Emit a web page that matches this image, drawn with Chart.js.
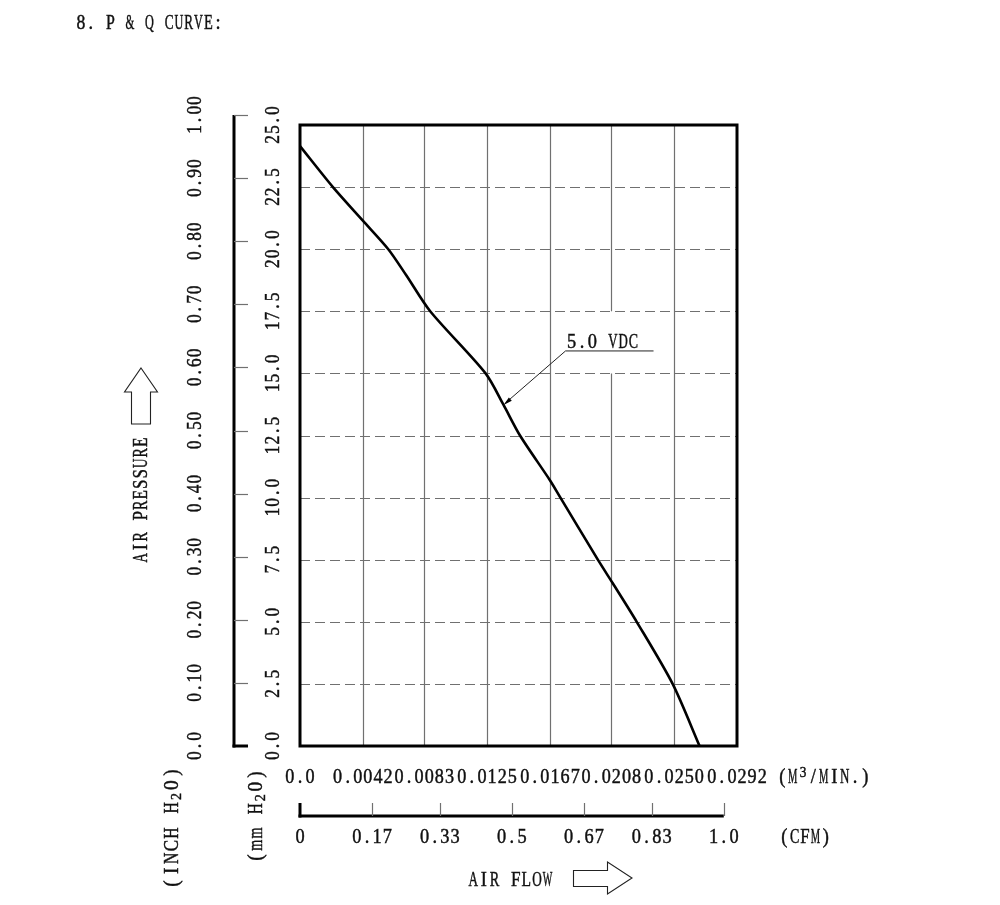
<!DOCTYPE html>
<html><head><meta charset="utf-8">
<script src="https://cdn.jsdelivr.net/npm/chart.js@4.4.0/dist/chart.umd.min.js"></script>
<style>html,body{margin:0;padding:0;background:#fff;}#wrap{width:1000px;height:905px;position:relative;}canvas{display:block;}</style>
</head><body><div id="wrap"><canvas id="c" width="1000" height="905"></canvas></div>
<script>
// ---- data ----
const flowM3 = [0, 0.0022, 0.0042, 0.0059, 0.0071, 0.0087, 0.0124, 0.0136, 0.0147, 0.0167, 0.0174, 0.0199, 0.0209, 0.0225, 0.0249, 0.0267];
const pressureMm = [24.15, 22.5, 21.15, 20.0, 18.95, 17.5, 15.0, 13.73, 12.5, 10.7, 10.0, 7.5, 6.55, 5.0, 2.5, 0];
const seriesLabel = '5.0 VDC';
const labelPointIndex = 7;
const flowTicks = [0, 0.0042, 0.0083, 0.0125, 0.0167, 0.0208, 0.0250, 0.0292];
const flowTickLabels = ['0.0', '0.0042', '0.0083', '0.0125', '0.0167', '0.0208', '0.0250', '0.0292'];
const mmTicks = [0, 2.5, 5, 7.5, 10, 12.5, 15, 17.5, 20, 22.5, 25];
const mmTickLabels = ['0.0', '2.5', '5.0', '7.5', '10.0', '12.5', '15.0', '17.5', '20.0', '22.5', '25.0'];
const inchTicks = [0, 0.1, 0.2, 0.3, 0.4, 0.5, 0.6, 0.7, 0.8, 0.9, 1.0];
const inchTickLabels = ['0.0', '0.10', '0.20', '0.30', '0.40', '0.50', '0.60', '0.70', '0.80', '0.90', '1.00'];
const cfmTicks = [0, 0.17, 0.33, 0.5, 0.67, 0.83, 1.0];
const cfmTickLabels = ['0', '0.17', '0.33', '0.5', '0.67', '0.83', '1.0'];
const titleText = '8. P & Q CURVE:';
const MM_PER_INCH = 25.4;
const M3MIN_PER_CFM = 0.0283168;

const FONT = '"Liberation Serif", "DejaVu Serif", serif';
function drawMono(ctx, parts, x, y, o) {
  o = Object.assign({adv: 10.2, size: 20, sx: 0.92, align: 'left', baseline: 'alphabetic', color: '#111'}, o || {});
  if (typeof parts === 'string') parts = [{t: parts}];
  let total = 0;
  for (const p of parts) total += p.t.length * (p.sub ? o.adv * 0.8 : o.adv);
  let cx = o.align === 'center' ? x - total / 2 : (o.align === 'right' ? x - total : x);
  ctx.fillStyle = o.color;
  ctx.strokeStyle = o.color;
  for (const p of parts) {
    const small = p.sub || p.sup;
    const a = p.sub ? o.adv * 0.8 : o.adv;
    const fs = small ? o.size * 0.72 : o.size;
    const dy = p.sub ? o.size * 0.22 : (p.sup ? -o.size * 0.32 : 0);
    ctx.font = fs + 'px ' + FONT;
    for (const ch of p.t) {
      const w = ctx.measureText(ch).width;
      const s = w > 0 ? Math.min(o.sx, (a * 0.9) / w) : o.sx;
      ctx.save();
      ctx.translate(cx + a / 2, y + dy);
      ctx.scale(s, 1);
      ctx.textAlign = 'center';
      ctx.textBaseline = o.baseline;
      ctx.lineWidth = 0.45;
      ctx.fillText(ch, 0, 0);
      ctx.strokeText(ch, 0, 0);
      ctx.restore();
      cx += a;
    }
  }
}
function drawRot(ctx, parts, x, y, o) {
  ctx.save();
  ctx.translate(x, y);
  ctx.rotate(-Math.PI / 2);
  drawMono(ctx, parts, 0, 0, Object.assign({align: 'center', baseline: 'middle'}, o || {}));
  ctx.restore();
}
function line(ctx, x1, y1, x2, y2, w, c, dash) {
  ctx.save();
  ctx.beginPath();
  ctx.lineWidth = w; ctx.strokeStyle = c;
  ctx.setLineDash(dash || []);
  ctx.moveTo(x1, y1); ctx.lineTo(x2, y2); ctx.stroke();
  ctx.restore();
}

const gridPlugin = {
  id: 'pqGrid',
  beforeDatasetsDraw(chart) {
    const ctx = chart.ctx, a = chart.chartArea;
    const xs = chart.scales.x, ys = chart.scales.y;
    const gridColor = '#707070';
    mmTicks.forEach(v => {
      if (v === 0 || v === 25) return;
      const py = Math.round(ys.getPixelForValue(v)) + 0.5;
      line(ctx, a.left, py, a.right, py, 1.2, gridColor, [10, 5]);
    });
    flowTicks.forEach(v => {
      if (v === 0 || v === 0.0292) return;
      const px = Math.round(xs.getPixelForValue(v)) + 0.5;
      if (v === 0.0208) {
        line(ctx, px, a.top, px, ys.getPixelForValue(17.5), 1.2, gridColor);
        line(ctx, px, ys.getPixelForValue(15), px, a.bottom, 1.2, gridColor);
      } else {
        line(ctx, px, a.top, px, a.bottom, 1.2, gridColor);
      }
    });
  },
  afterDatasetsDraw(chart) {
    const ctx = chart.ctx, a = chart.chartArea;
    const xs = chart.scales.x, ys = chart.scales.y, inch = chart.scales.inch, cfm = chart.scales.cfm;
    ctx.save();
    ctx.lineWidth = 3; ctx.strokeStyle = '#000';
    ctx.strokeRect(a.left, a.top, a.right - a.left, a.bottom - a.top);
    ctx.restore();

    mmTicks.forEach((v, i) => drawRot(ctx, mmTickLabels[i], 274, ys.getPixelForValue(v), {adv: 9.6}));

    const ax = 234;
    const iTop = inch.getPixelForValue(1.0);
    line(ctx, ax, iTop, ax, a.bottom + 1.5, 3, '#000');
    line(ctx, ax - 1.5, a.bottom, ax + 14, a.bottom, 3, '#000');
    inchTicks.forEach((v, i) => {
      const py = Math.round(inch.getPixelForValue(v)) + 0.5;
      if (v > 0) line(ctx, ax, py, ax + 14, py, 1.2, '#707070');
      drawRot(ctx, inchTickLabels[i], 196, inch.getPixelForValue(v), {adv: 9.6});
    });

    flowTicks.forEach((v, i) => drawMono(ctx, flowTickLabels[i], xs.getPixelForValue(v), 783, {align: 'center', adv: 10.1}));
    drawMono(ctx, [{t: '(M'}, {t: '3', sup: true}, {t: '/MIN.)'}], 777, 783, {adv: 10.4});

    const cy = 816;
    const cEnd = cfm.getPixelForValue(1.0);
    line(ctx, a.left - 1.5, cy, cEnd, cy, 3, '#000');
    line(ctx, a.left, cy - 13, a.left, cy + 1.5, 3, '#000');
    cfmTicks.forEach((v, i) => {
      const px = Math.round(cfm.getPixelForValue(v)) + 0.5;
      if (v > 0) line(ctx, px, cy - 13, px, cy, 1.2, '#707070');
      drawMono(ctx, cfmTickLabels[i], cfm.getPixelForValue(v), 843, {align: 'center', adv: 10.2});
    });
    drawMono(ctx, '(CFM)', 779, 843, {adv: 10.4});

    drawRot(ctx, 'AIR PRESSURE', 142, 500, {adv: 10.5});
    drawRot(ctx, [{t: '(INCH H'}, {t: '2', sub: true}, {t: '0)'}], 172, 828, {adv: 12.6, size: 21});
    drawRot(ctx, [{t: '(mm H'}, {t: '2', sub: true}, {t: '0)'}], 256, 816, {adv: 12.2, size: 21});
    drawMono(ctx, 'AIR FLOW', 468, 886, {adv: 10.6});
    drawMono(ctx, titleText, 76, 29, {adv: 9.8});

    ctx.save();
    ctx.lineWidth = 1.1; ctx.strokeStyle = '#222';
    ctx.beginPath();
    ctx.moveTo(141, 368); ctx.lineTo(157.5, 392); ctx.lineTo(150.5, 392); ctx.lineTo(150.5, 424);
    ctx.lineTo(131.5, 424); ctx.lineTo(131.5, 392); ctx.lineTo(124.5, 392); ctx.closePath(); ctx.stroke();
    ctx.beginPath();
    ctx.moveTo(573.5, 870.5); ctx.lineTo(607.5, 870.5); ctx.lineTo(607.5, 862); ctx.lineTo(632, 878);
    ctx.lineTo(607.5, 894); ctx.lineTo(607.5, 886.5); ctx.lineTo(573.5, 886.5); ctx.closePath(); ctx.stroke();
    ctx.restore();

    const pt = chart.getDatasetMeta(0).data[labelPointIndex];
    const tx = pt.x, ty = pt.y;
    const sx0 = tx + 62, sy0 = ty - 54;
    line(ctx, sx0, sy0, tx + 2, ty - 2, 1, '#222');
    line(ctx, sx0, sy0, sx0 + 88, sy0, 1, '#222');
    const ang = Math.atan2(ty - sy0, tx - sx0);
    ctx.save();
    ctx.fillStyle = '#000';
    ctx.beginPath();
    ctx.moveTo(tx, ty);
    ctx.lineTo(tx - 9 * Math.cos(ang) + 2.2 * Math.sin(ang), ty - 9 * Math.sin(ang) - 2.2 * Math.cos(ang));
    ctx.lineTo(tx - 9 * Math.cos(ang) - 2.2 * Math.sin(ang), ty - 9 * Math.sin(ang) + 2.2 * Math.cos(ang));
    ctx.closePath(); ctx.fill();
    ctx.restore();
    drawMono(ctx, seriesLabel, sx0 + 1, sy0 - 3, {adv: 10.3});
  }
};

new Chart(document.getElementById('c'), {
  type: 'line',
  data: {
    datasets: [{
      label: seriesLabel,
      data: flowM3.map((f, i) => ({x: f, y: pressureMm[i]})),
      borderColor: '#000',
      borderWidth: 2.6,
      borderJoinStyle: 'round',
      pointRadius: 0,
      tension: 0.28,
      fill: false
    }]
  },
  options: {
    responsive: false,
    animation: false,
    devicePixelRatio: 1,
    layout: {padding: {left: 300, right: 263, top: 125, bottom: 159}},
    plugins: {legend: {display: false}, title: {display: false}, tooltip: {enabled: false}},
    scales: {
      x: {type: 'linear', min: 0, max: 0.0292, display: false},
      y: {type: 'linear', min: 0, max: 25, display: false},
      inch: {type: 'linear', axis: 'y', position: 'left', min: 0, max: 25 / MM_PER_INCH, display: false},
      cfm: {type: 'linear', axis: 'x', position: 'bottom', min: 0, max: 0.0292 / M3MIN_PER_CFM, display: false}
    }
  },
  plugins: [gridPlugin]
});
</script>
</body></html>
